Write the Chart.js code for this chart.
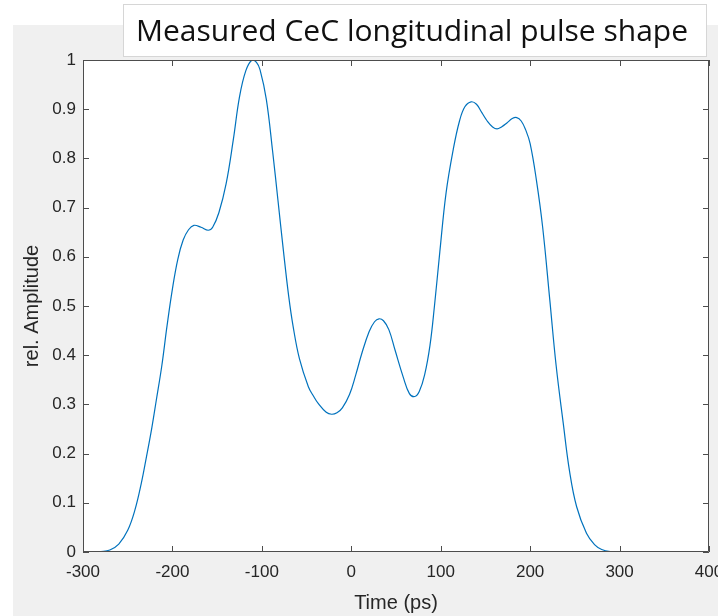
<!DOCTYPE html>
<html>
<head>
<meta charset="utf-8">
<title>Measured CeC longitudinal pulse shape</title>
<script src="https://cdn.jsdelivr.net/npm/chart.js@4"></script>
<style>
  html, body { margin: 0; padding: 0; background: #ffffff; }
  #wrap { position: relative; width: 718px; height: 616px; }
</style>
</head>
<body>
<div id="wrap"><canvas id="pulse" width="718" height="616"></canvas></div>
<script>
// values
const timePs = [
    -300, -290, -280, -270, -260, -250, -242, -235, -229, -223,
    -218, -212, -206, -200, -194, -188, -182, -176, -168, -160,
    -155, -148, -140, -132, -125, -118, -111, -106, -102, -95,
    -88, -82, -76, -70, -65, -58, -48, -42, -37, -28, -22,
    -16, -10, -2, 5, 12, 20, 26, 31, 36, 42,
    49, 58, 65, 71, 76, 82, 88, 93, 99, 106,
    114, 121, 127, 134, 140, 146, 152, 158, 163, 168,
    174, 180, 185, 190, 195, 200, 207, 214, 222, 229,
    237, 244, 252, 263, 272, 280, 290, 300
];
const relAmplitude = [
    0, 0, 0.001, 0.004, 0.016, 0.044, 0.085, 0.138, 0.194, 0.253,
    0.309, 0.377, 0.46, 0.535, 0.595, 0.634, 0.655, 0.664, 0.660, 0.654,
    0.660, 0.69, 0.748, 0.837, 0.925, 0.978, 1.0, 0.995, 0.98, 0.92,
    0.815, 0.715, 0.614, 0.52, 0.458, 0.393, 0.336, 0.316, 0.302, 0.284, 0.28,
    0.283, 0.293, 0.32, 0.36, 0.405, 0.448, 0.468, 0.474, 0.47, 0.452,
    0.41, 0.356, 0.322, 0.316, 0.326, 0.36, 0.42, 0.5, 0.61, 0.73,
    0.818, 0.876, 0.905, 0.915, 0.91, 0.893, 0.876, 0.864, 0.860, 0.864,
    0.872, 0.881, 0.883, 0.876, 0.858, 0.83, 0.756, 0.66, 0.512, 0.38,
    0.262, 0.165, 0.092, 0.038, 0.015, 0.005, 0.0005, 0
];
const xTicks = [-300, -200, -100, 0, 100, 200, 300, 400];
const yTicks = [0, 0.1, 0.2, 0.3, 0.4, 0.5, 0.6, 0.7, 0.8, 0.9, 1];

const axisColor = '#4d4d4d';
const textColor = '#262626';
const lineColor = '#0072BD';

// grey figure panel, white axes, box with inward ticks and the pasted title box
const figurePlugin = {
    id: 'figure',
    beforeDraw(chart) {
        const ctx = chart.ctx;
        const a = chart.chartArea;
        ctx.save();
        ctx.fillStyle = '#ffffff';
        ctx.fillRect(0, 0, chart.width, chart.height);
        ctx.fillStyle = '#f0f0f0';
        ctx.fillRect(13, 25, chart.width - 13, chart.height - 25);
        ctx.fillStyle = '#ffffff';
        ctx.fillRect(a.left, a.top, a.right - a.left, a.bottom - a.top);
        ctx.restore();
    },
    afterDraw(chart) {
        const ctx = chart.ctx;
        const a = chart.chartArea;
        const xs = chart.scales.x;
        const ys = chart.scales.y;
        const tick = 6;
        ctx.save();
        ctx.strokeStyle = axisColor;
        ctx.lineWidth = 1;
        ctx.beginPath();
        ctx.rect(a.left + 0.5, a.top + 0.5, a.right - a.left - 1, a.bottom - a.top - 1);
        xTicks.forEach(v => {
            const px = Math.round(xs.getPixelForValue(v)) + 0.5;
            ctx.moveTo(px, a.bottom);
            ctx.lineTo(px, a.bottom - tick);
            ctx.moveTo(px, a.top);
            ctx.lineTo(px, a.top + tick);
        });
        yTicks.forEach(v => {
            const py = Math.round(ys.getPixelForValue(v)) + 0.5;
            ctx.moveTo(a.left, py);
            ctx.lineTo(a.left + tick, py);
            ctx.moveTo(a.right, py);
            ctx.lineTo(a.right - tick, py);
        });
        ctx.stroke();

        // title text box
        ctx.fillStyle = '#ffffff';
        ctx.fillRect(123, 4, 584, 53);
        ctx.strokeStyle = '#d6d6d6';
        ctx.strokeRect(123.5, 4.5, 583, 52);
        ctx.fillStyle = '#111111';
        ctx.font = '30px "Open Sans"';
        ctx.textBaseline = 'alphabetic';
        ctx.textAlign = 'left';
        ctx.fillText('Measured CeC longitudinal pulse shape', 136, 41);
        ctx.restore();
    }
};

const ctx = document.getElementById('pulse').getContext('2d');
new Chart(ctx, {
    type: 'line',
    data: {
        datasets: [{
            label: 'Pulse',
            data: timePs.map((t, i) => ({ x: t, y: relAmplitude[i] })),
            borderColor: lineColor,
            borderWidth: 1.2,
            pointRadius: 0,
            fill: false,
            tension: 0.4
        }]
    },
    options: {
        responsive: false,
        devicePixelRatio: 1,
        animation: false,
        layout: {
            padding: { left: 0, top: 60, right: 9, bottom: 0 }
        },
        plugins: {
            legend: { display: false },
            tooltip: { enabled: false },
            title: { display: false }
        },
        scales: {
            x: {
                type: 'linear',
                min: -300,
                max: 400,
                afterFit(scale) {
                    scale.height = 64;
                    scale.paddingLeft = 0;
                    scale.paddingRight = 0;
                },
                afterBuildTicks(scale) {
                    scale.ticks = xTicks.map(v => ({ value: v }));
                },
                grid: { display: false, drawTicks: false },
                border: { display: false },
                ticks: {
                    color: textColor,
                    font: { family: '"Liberation Sans", Arial, sans-serif', size: 17 },
                    padding: 10,
                    maxRotation: 0,
                    autoSkip: false
                },
                title: {
                    display: true,
                    text: 'Time (ps)',
                    color: textColor,
                    font: { family: '"Liberation Sans", Arial, sans-serif', size: 20 },
                    padding: { top: 0, bottom: 1 }
                }
            },
            y: {
                type: 'linear',
                min: 0,
                max: 1,
                afterFit(scale) {
                    scale.width = 83;
                    scale.paddingTop = 0;
                    scale.paddingBottom = 0;
                },
                afterBuildTicks(scale) {
                    scale.ticks = yTicks.map(v => ({ value: v }));
                },
                grid: { display: false, drawTicks: false },
                border: { display: false },
                ticks: {
                    color: textColor,
                    font: { family: '"Liberation Sans", Arial, sans-serif', size: 17 },
                    padding: 7,
                    autoSkip: false,
                    callback: v => String(Number(v.toFixed(1)))
                },
                title: {
                    display: true,
                    text: 'rel. Amplitude',
                    color: textColor,
                    font: { family: '"Liberation Sans", Arial, sans-serif', size: 20 },
                    padding: { top: 20, bottom: 0 }
                }
            }
        }
    },
    plugins: [figurePlugin]
});
</script>
</body>
</html>
